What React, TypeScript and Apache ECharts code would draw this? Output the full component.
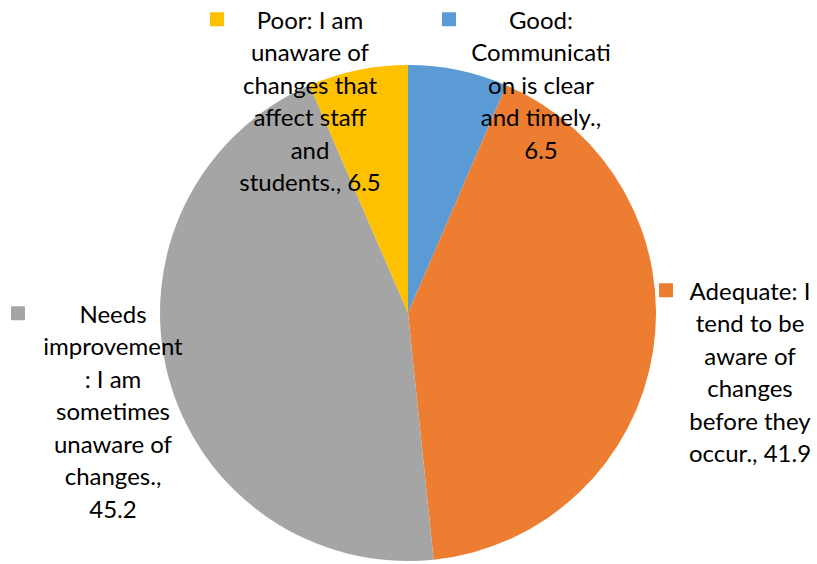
import React, { useEffect, useRef } from "react";
import * as echarts from "echarts";

const categories = [
  "Good: Communication is clear and timely.",
  "Adequate: I tend to be aware of changes before they occur.",
  "Needs improvement: I am sometimes unaware of changes.",
  "Poor: I am unaware of changes that affect staff and students.",
];
const values = [6.5, 41.9, 45.2, 6.5];
const colors = ["#5B9BD5", "#ED7D31", "#A5A5A5", "#FFC000"];
const labelNameLines = [
  ["Good:", "Communicati", "on is clear", "and timely."],
  ["Adequate: I", "tend to be", "aware of", "changes", "before they", "occur."],
  ["Needs", "improvement", ": I am", "sometimes", "unaware of", "changes."],
  ["Poor: I am", "unaware of", "changes that", "affect staff", "and", "students."],
];
const valueOnOwnLine = [true, false, true, false];

// label box placement (layout only)
const labelBoxes = [
  { x: 541, y: 3, w: 198 },
  { x: 750, y: 274, w: 182 },
  { x: 113, y: 297, w: 204 },
  { x: 310, y: 3, w: 200 },
];

export default function App() {
  const ref = useRef<HTMLDivElement>(null);
  useEffect(() => {
    if (!ref.current) return;
    const chart = echarts.init(ref.current, undefined, { renderer: "svg" });
    const rich: any = { sp: { width: 14, height: 14, align: "right" } };
    colors.forEach((c, i) => {
      rich["sq" + i] = { width: 14, height: 14, backgroundColor: c, align: "left" };
    });
    chart.setOption({
      animation: false,
      backgroundColor: "#fff",
      series: [
        {
          type: "pie",
          center: [408, 313],
          radius: 248,
          startAngle: 90,
          clockwise: true,
          avoidLabelOverlap: false,
          silent: true,
          itemStyle: { borderWidth: 0 },
          label: {
            show: true,
            position: "inside",
            color: "#000",
            fontFamily: "Lato",
            fontSize: 24,
            lineHeight: 32.5,
            align: "center",
            overflow: "none",
            rich,
            formatter: (p: any) => {
              const i = p.dataIndex;
              const lines = labelNameLines[i].slice();
              const last = lines.length - 1;
              lines[last] = lines[last] + "," + (valueOnOwnLine[i] ? "\n" : " ") + values[i];
              lines[0] = "{sq" + i + "|}" + lines[0] + "{sp|}";
              return lines.join("\n");
            },
          },
          labelLine: { show: false },
          labelLayout: (params: any) => {
            const b = labelBoxes[params.dataIndex];
            return { x: b.x, y: b.y, align: "center", verticalAlign: "top", width: b.w };
          },
          data: categories.map((name, i) => ({
            name,
            value: values[i],
            itemStyle: { color: colors[i] },
            label: { width: labelBoxes[i].w },
          })),
        },
      ],
    });
    return () => chart.dispose();
  }, []);
  return (
    <div
      ref={ref}
      style={{ position: "fixed", left: 0, top: 0, width: 817, height: 564 }}
    />
  );
}
